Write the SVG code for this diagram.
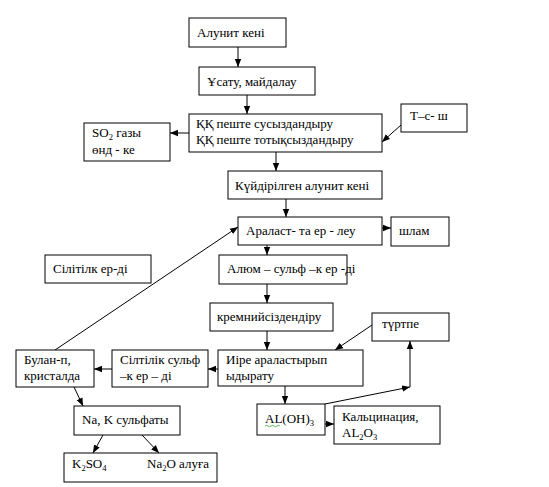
<svg xmlns="http://www.w3.org/2000/svg" width="549" height="487" viewBox="0 0 549 487">
<defs>
<style>
rect{fill:#fff;stroke:#000;stroke-width:1}
text{font-family:'Liberation Serif','DejaVu Serif',serif;font-size:13px;fill:#000}
.sub{font-size:8.5px}
#connectors line{stroke:#000;stroke-width:1;marker-end:url(#ah)}
</style>
<marker id="ah" markerUnits="userSpaceOnUse" markerWidth="8" markerHeight="8" viewBox="0 0 8 8" refX="8" refY="4" orient="auto">
<path d="M0,0.8 L8,4 L0,7.2 Z" fill="#000"/>
</marker>
</defs>
<rect x="0" y="0" width="549" height="487" style="fill:#fff;stroke:none"/>
<g id="connectors">
<line x1="238" y1="47" x2="238" y2="67"/>
<line x1="247" y1="95" x2="247" y2="114"/>
<line x1="189" y1="133" x2="170" y2="133"/>
<line x1="401" y1="125" x2="382" y2="142"/>
<line x1="276" y1="152" x2="276" y2="171"/>
<line x1="286" y1="199" x2="286" y2="217"/>
<line x1="382" y1="228" x2="391" y2="228"/>
<line x1="267" y1="245" x2="267" y2="255"/>
<line x1="267" y1="284" x2="267" y2="303"/>
<line x1="267" y1="331" x2="267" y2="350"/>
<line x1="375" y1="323" x2="335" y2="350"/>
<line x1="218" y1="369" x2="208" y2="369"/>
<line x1="112" y1="369" x2="94" y2="369"/>
<line x1="55" y1="350" x2="238" y2="227"/>
<line x1="74" y1="387" x2="83" y2="406"/>
<line x1="103" y1="435" x2="93" y2="453"/>
<line x1="142" y1="435" x2="159" y2="453"/>
<line x1="285" y1="386" x2="285" y2="404"/>
<line x1="325" y1="424" x2="334" y2="424"/>
<line x1="325" y1="404" x2="410" y2="387"/>
<line x1="410" y1="387" x2="410" y2="341"/>
</g>
<g id="n1"><rect x="189" y="18" width="97" height="29"/><text x="197" y="37">Алунит кені</text></g>
<g id="n2"><rect x="199" y="67" width="116" height="28"/><text x="207" y="86">Ұсату, майдалау</text></g>
<g id="n3"><rect x="189" y="114" width="193" height="38"/><text x="196" y="128">ҚҚ пеште  сусыздандыру</text><text x="196" y="144">ҚҚ пеште  тотықсыздандыру</text></g>
<g id="n4"><rect x="401" y="104" width="66" height="28"/><text x="410" y="120">Т–с- ш</text></g>
<g id="n5"><rect x="84" y="123" width="86" height="38"/><text x="92" y="137">SO<tspan class="sub" dy="2.5">2</tspan><tspan dy="-2.5"> газы</tspan></text><text x="92" y="154">өнд - ке</text></g>
<g id="n6"><rect x="228" y="171" width="154" height="28"/><text x="235" y="190">Күйдірілген алунит кені</text></g>
<g id="n7"><rect x="238" y="217" width="144" height="28"/><text x="246" y="235">Араласт- та ер  - леу</text></g>
<g id="n8"><rect x="391" y="217" width="58" height="29"/><text x="399" y="235">шлам</text></g>
<g id="n9"><rect x="219" y="255" width="128" height="29"/><text x="227" y="273">Алюм – сульф –к ер -ді</text></g>
<g id="n10"><rect x="45" y="255" width="106" height="28"/><text x="53" y="273">Сілітілк ер-ді</text></g>
<g id="n11"><rect x="210" y="303" width="123" height="28"/><text x="217" y="321">кремнийсіздендіру</text></g>
<g id="n12"><rect x="372" y="313" width="77" height="28"/><text x="382" y="328">түртпе</text></g>
<g id="n13"><rect x="218" y="350" width="145" height="36"/><text x="226" y="364">Иіре араластырып</text><text x="226" y="380">ыдырату</text></g>
<g id="n14"><rect x="112" y="350" width="96" height="37"/><text x="120" y="364">Сілтілік сульф</text><text x="120" y="380">–к ер – ді</text></g>
<g id="n15"><rect x="16" y="350" width="78" height="37"/><text x="24" y="364">Булан-п,</text><text x="24" y="380">кристалда</text></g>
<g id="n16"><rect x="74" y="406" width="106" height="29"/><text x="82" y="424">Na, K сульфаты</text></g>
<g id="n17"><rect x="64" y="453" width="153" height="29"/><text x="72" y="468">K<tspan class="sub" dy="2.5">2</tspan><tspan dy="-2.5">SO</tspan><tspan class="sub" dy="2.5">4</tspan></text><text x="147" y="468">Na<tspan class="sub" dy="2.5">2</tspan><tspan dy="-2.5">O алуға</tspan></text></g>
<g id="n18"><rect x="257" y="404" width="68" height="31"/><text x="265" y="423">AL(OH)<tspan class="sub" dy="2.5">3</tspan></text><path d="M265,426 q1.5,-1.5 3,0 t3,0 t3,0 t3,0 t3,0" fill="none" stroke="#3a3" stroke-width="0.8"/></g>
<g id="n19"><rect x="334" y="406" width="106" height="38"/><text x="342" y="421">Кальцинация,</text><text x="342" y="437">AL<tspan class="sub" dy="2.5">2</tspan><tspan dy="-2.5">O</tspan><tspan class="sub" dy="2.5">3</tspan></text></g>
</svg>
